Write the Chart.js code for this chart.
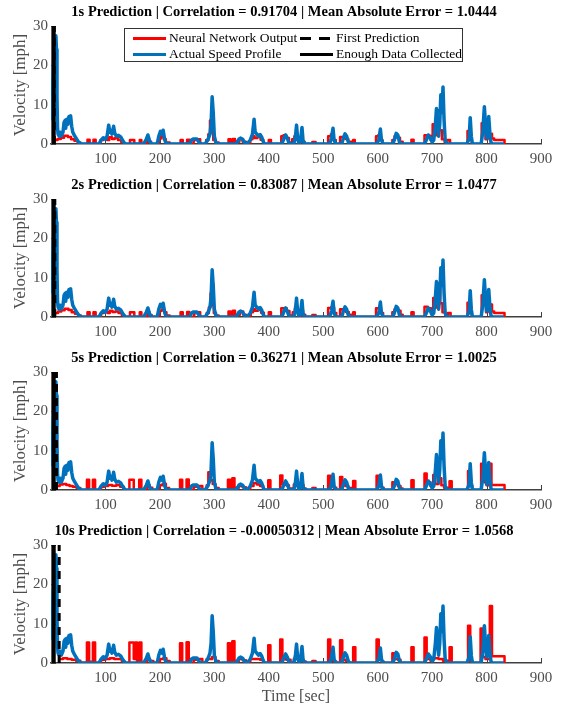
<!DOCTYPE html>
<html>
<head>
<meta charset="utf-8">
<script src="https://cdn.jsdelivr.net/npm/chart.js@4.4.1/dist/chart.umd.min.js"></script>
<style>
  html, body { margin: 0; padding: 0; background: #fff; }
  #wrap { position: relative; width: 563px; height: 707px; }
  #wrap canvas { position: absolute; left: 0; }
  #legend {
    position: absolute; left: 124px; top: 28px; width: 339px; height: 34px;
    border: 1px solid #333; background: #fff; box-sizing: border-box;
    font-family: "Liberation Serif", "Times New Roman", serif; font-size: 13.5px; color: #000;
  }
  #legend .item { position: absolute; display: flex; align-items: center; white-space: nowrap; height: 18px; }
  #legend .swatch { display: inline-block; width: 33px; height: 3px; margin-right: 3px; }
</style>
</head>
<body>
<div id="wrap">
  <canvas id="c0" width="563" height="173" style="top:0px"></canvas>
  <canvas id="c1" width="563" height="173" style="top:173px"></canvas>
  <canvas id="c2" width="563" height="173" style="top:346px"></canvas>
  <canvas id="c3" width="563" height="188" style="top:519px"></canvas>
  <div id="legend"></div>
</div>
<script>
const SERIF = '"Liberation Serif", "Times New Roman", serif';
const RED = "#ff0000";
const BLUE = "#0072bd";
const AXIS = "#404040";
const TEXT_GRAY = "#4d4d4d";

const titles = [
  "1s Prediction | Correlation = 0.91704 | Mean Absolute Error = 1.0444",
  "2s Prediction | Correlation = 0.83087 | Mean Absolute Error = 1.0477",
  "5s Prediction | Correlation = 0.36271 | Mean Absolute Error = 1.0025",
  "10s Prediction | Correlation = -0.00050312 | Mean Absolute Error = 1.0568",
];
const xTicks = [100, 200, 300, 400, 500, 600, 700, 800, 900];
const yTicks = [0, 10, 20, 30];

// x of the "enough data" line and of the first prediction per horizon
const enoughData = 5;
const firstPrediction = [6, 7, 10, 15];

// actual speed profile [sec, mph]
const actual = [
  [0,6],[2,10],[4,18],[6,24],[8,27],[9,27.5],[10,24],[11,12],[12,4],[13,2.5],[15,2],[17,3],[19,2],[22,3],[24,5.5],[26,6],[27,4],
  [29,6.3],[31,5],[33,7],[35,6],[36,7.2],[38,4.5],[40,3],[43,2.2],[46,1.5],[50,0.6],[55,0],
  [88,0],[92,1],[96,1.6],[100,1.2],[103,2],[106,4.8],[108,3],[110,3.5],[112,2.5],[115,4.5],[117,2.8],
  [120,2],[124,2.2],[128,1.8],[132,0.8],[136,0],[170,0],[175,1.2],[178,2.3],[181,0.8],[184,0],
  [195,0],[198,2],[201,3.2],[204,2.5],[206,3.5],[209,1],[212,0],[255,0],[258,1],[262,1.3],[268,1.3],
  [272,0.4],[276,0],[283,0],[288,1],[292,2.5],[294,5],[296,12],[298,8],[300,2],[303,0.3],[306,0],
  [340,0],[345,1.2],[348,1.5],[352,1.2],[356,0.3],[360,0],[366,1],[370,2.5],[373,6.3],[375,3],
  [378,2.5],[381,2],[384,2.4],[387,1.8],[390,0.5],[393,0],[424,0],[428,1.5],[431,2.3],[434,1.5],
  [437,0.3],[440,0],[446,0],[449,2],[451,4.8],[453,1.5],[455,0.3],[458,0.5],[461,4.2],[463,0.8],
  [466,0],[512,0],[515,1.5],[518,4],[520,1],[523,0],[534,0],[537,1.5],[540,2.6],[543,2],[546,0.5],
  [549,0],[598,0],[602,1],[605,3.8],[607,1],[610,0],[628,0],[631,1.2],[634,2.7],[637,2.3],[640,0.5],
  [643,0],[686,0],[690,1.2],[693,2.3],[697,1.5],[700,0.5],[703,1],[706,5],[708,9],[710,6],[712,2],
  [714,5],[716,12.5],[718,8],[720,14.5],[722,6],[724,1],[727,0],[764,0],[768,1.5],[770,6.7],[772,2],
  [774,0],[790,0],[793,3],[796,9.5],[798,5],[800,1.5],[802,2],[804,7],[806,3],[808,0.5],[810,0],[832,0],
];

// neural network output, held values [sec, mph]
const pred1s = [
  [6,1],[12,1.3],[18,1.6],[24,2.1],[31,1.8],[37,1.2],[43,0.8],[49,0.4],[54,0],
  [67,1.1],[71,0],[78,1.1],[82,0],[91,1],[96,1.4],[103,1],[107,1.7],[112,1.3],[117,1.5],[123,1],[129,0.5],[134,0],
  [145,1],[153,0],[163,1],[166,0],[176,1.5],[180,0.6],[184,0],[198,1.4],[202,2],[207,1.2],[211,0.4],[218,0],
  [238,1],[242,0],[250,1.1],[254,0],[262,1],[270,1.2],[274,0],
  [285,1],[289,2.5],[292,6],[295,3],[298,1],[302,0.4],[308,0],
  [326,1.2],[330,0],[334,1.3],[338,0.6],[346,1.3],[352,0.6],[358,0],[366,1.2],[370,2],[374,1.5],[379,1.8],[385,1.1],[390,0],
  [400,1],[404,0],[423,2],[427,2.2],[432,1.5],[437,0.4],[443,1.2],[447,2],[451,1.2],[455,0.3],[458,1.8],[462,0.6],[466,0],
  [480,0.5],[486,0],[509,2],[514,2.4],[519,1],[523,0],[531,1.8],[536,1.5],[541,1.3],[546,0.6],[555,1],[558,0],
  [597,2],[601,2.2],[605,1],[609,0],[627,1],[631,2],[636,1.6],[641,0.6],[646,0],
  [662,1.1],[666,0],[686,2.2],[692,2.1],[697,1],[701,5],[705,2.2],[708,3],[711,8.6],[714,3.5],[718,1.2],[723,0.5],[728,1],[733,0],
  [765,3.3],[769,1],[773,0],[791,5.3],[795,3],[798,1.2],[802,2.6],[806,2.6],[810,1.4],[814,1],[832,1],[833,0],
];
const pred2s = [
  [7,1],[13,1.4],[19,1.7],[25,2.1],[32,1.8],[38,1.2],[44,0.8],[50,0.4],[55,0],
  [67,1.2],[71,0],[78,1.2],[82,0],[92,1],[97,1.3],[104,1],[108,1.6],[113,1.3],[118,1.4],[124,1],[130,0.5],[135,0],
  [145,1.2],[153,0],[163,1.2],[166,0],[177,1.3],[181,0.5],[185,0],[199,1.5],[203,1.8],[208,1.2],[212,0.4],[218,0],
  [238,1.2],[242,0],[250,1.3],[254,0],[263,1],[270,1.2],[274,0],
  [286,1],[290,2.5],[293,6],[296,3],[299,1],[303,0.4],[308,0],
  [326,1.4],[330,0],[334,1.6],[338,0.6],[347,1.4],[353,0.6],[358,0],[367,1.2],[371,2],[375,1.6],[380,1.8],[386,1.1],[391,0],
  [400,1.2],[404,0],[423,2.2],[428,2.2],[433,1.5],[438,0.4],[444,1.2],[448,2.2],[452,1.2],[456,0.3],[459,1.6],[463,0.6],[467,0],
  [480,0.5],[486,0],[509,2.3],[514,2.4],[520,1],[524,0],[531,2],[536,1.6],[542,1.3],[547,0.6],[555,1.2],[558,0],
  [597,2.2],[601,2.2],[606,1],[610,0],[627,1.2],[631,2],[637,1.6],[642,0.6],[646,0],
  [662,1.2],[666,0],[686,2.6],[692,2.2],[698,1],[702,4.8],[706,2.4],[709,3],[712,8.6],[715,3.5],[719,1.2],[724,0.5],[729,1],[734,0],
  [765,3.6],[769,1],[773,0],[791,5.5],[795,3.2],[799,1.2],[802,3],[806,3.2],[810,1.4],[814,1],[832,1],[833,0],
];
const pred5s = [
  [10,1],[16,1.4],[22,1.5],[28,1.3],[34,1],[40,0.8],[47,0.5],[54,0],
  [66,2.6],[70,0],[77,2.6],[81,0],[92,0.8],[98,1],[105,1.3],[112,1.1],[120,1.3],[127,0.8],[134,0],
  [144,2.6],[152,0],[162,2.6],[166,0],[176,1.3],[181,0.6],[186,0],[199,1.2],[205,1.6],[211,0.5],[217,0],
  [237,2.6],[241,0],[249,2.7],[253,0],[262,0.8],[272,1],[278,0],
  [286,1.2],[289,4.5],[293,2.5],[297,1.5],[302,0.5],[308,0],
  [325,2.6],[329,0],[333,3],[337,0.6],[345,1],[352,0.7],[358,0],[366,1],[372,1.8],[378,1.4],[384,1],[390,0],
  [399,2.5],[403,0],[421,3.7],[425,1.5],[432,1.2],[437,0.4],[446,1.4],[452,1],[458,1.2],[464,0.4],[468,0],
  [480,0.5],[486,0],[509,3.6],[513,1],[519,0.6],[524,0],[531,3.3],[535,1.2],[541,1],[546,0.5],[555,2.3],[559,0],
  [598,3.6],[602,1.2],[607,0.6],[611,0],[627,2],[631,1.5],[637,1],[642,0.4],[646,0],
  [662,2.5],[666,0],[686,4.2],[690,2],[697,1],[702,3.8],[706,1.5],[712,3],[717,1.2],[722,0.6],[732,2.2],[736,0],
  [766,4.8],[770,1],[774,0],[790,6.7],[796,2],[800,1.2],[804,6.7],[809,1.3],[832,1.3],[833,0],
];
const pred10s = [
  [15,1],[22,1.2],[30,1],[38,0.8],[46,0.6],[54,0],
  [66,5.2],[70,0.3],[77,5.2],[81,0],[92,0.8],[100,1],[108,1.2],[116,1],[124,1],[130,0.5],[135,0],
  [144,5.2],[152,1],[155,5.2],[158,0],[162,5.2],[166,0],[176,1],[182,0.5],[188,0],[200,1],[206,1.2],[212,0.5],[218,0],
  [237,5],[241,0],[249,5.3],[253,0],[262,0.8],[272,1],[278,0],[286,1],[296,1.5],[302,0.5],[308,0],
  [325,5],[329,0],[333,5.5],[337,0.5],[345,1],[352,0.7],[358,0],[366,1],[376,1],[384,0.8],[390,0],
  [399,4.5],[403,0],[421,6],[425,1],[432,0.8],[440,0],[446,1],[456,0.8],[464,0.4],[468,0],
  [480,0.5],[486,0],[509,6],[513,0.6],[520,0.4],[524,0],[531,5.8],[535,0.8],[541,0.6],[546,0],[555,4],[559,0],
  [598,6],[602,0.8],[607,0.4],[611,0],[627,2.5],[631,1],[637,0.8],[642,0],
  [662,4],[666,0],[686,6.5],[690,1],[697,0.6],[702,1.2],[712,1],[720,0.6],[732,4],[736,0],
  [766,9.5],[770,0.5],[774,0],[789,8.8],[793,1.5],[798,1],[806,14.5],[810,1.7],[832,1.7],[833,0],
];
const predictions = [pred1s, pred2s, pred5s, pred10s];

const pts = (arr) => arr.map(([x, y]) => ({ x, y }));
const tickFont = { family: SERIF, size: 15 };

// MATLAB-style inward tick marks
const inwardTicks = {
  id: "inwardTicks",
  beforeDatasetsDraw(chart) {
    const { ctx, chartArea: a, scales: { x, y } } = chart;
    ctx.save();
    ctx.strokeStyle = AXIS;
    ctx.lineWidth = 1;
    ctx.beginPath();
    xTicks.forEach((t) => {
      const px = Math.round(x.getPixelForValue(t)) + 0.5;
      ctx.moveTo(px, a.bottom);
      ctx.lineTo(px, a.bottom - 5);
    });
    yTicks.forEach((t) => {
      const py = Math.round(y.getPixelForValue(t)) + 0.5;
      ctx.moveTo(a.left, py);
      ctx.lineTo(a.left + 5, py);
    });
    ctx.stroke();
    ctx.restore();
  },
};

// title centred a little left of the plot centre, as in the figure
const plotTitle = {
  id: "plotTitle",
  afterDraw(chart, args, opts) {
    const { ctx } = chart;
    ctx.save();
    ctx.font = `bold 14.5px ${SERIF}`;
    ctx.fillStyle = "#000";
    ctx.textAlign = "center";
    ctx.textBaseline = "middle";
    ctx.fillText(opts.text, 284, 12);
    ctx.restore();
  },
};

function makeChart(idx) {
  const last = idx === 3;
  const fp = firstPrediction[idx];
  new Chart(document.getElementById("c" + idx), {
    type: "line",
    data: {
      datasets: [
        { label: "Actual Speed Profile", data: pts(actual), borderColor: BLUE, borderWidth: 3.5, order: 2 },
        { label: "Enough Data Collected", data: pts([[enoughData, 0], [enoughData, 30]]), borderColor: "#000", borderWidth: 4, order: 0 },
        { label: "First Prediction", data: pts([[fp, 0], [fp, 30]]), borderColor: "#000", borderWidth: 3, borderDash: [8, 6], order: 1 },
        { label: "Neural Network Output", data: pts(predictions[idx]), borderColor: RED, borderWidth: 2.5, stepped: true, order: 4 },
      ],
    },
    options: {
      responsive: false,
      animation: false,
      events: [],
      elements: { point: { radius: 0 }, line: { tension: 0, borderJoinStyle: "round" } },
      layout: { padding: { top: 26, right: 22, left: 0, bottom: 0 } },
      plugins: {
        legend: { display: false },
        tooltip: { enabled: false },
        title: { display: false },
        plotTitle: { text: titles[idx] },
      },
      scales: {
        x: {
          type: "linear",
          min: 0,
          max: 900,
          afterBuildTicks: (s) => { s.ticks = [0, ...xTicks].map((v) => ({ value: v })); },
          ticks: { font: tickFont, color: TEXT_GRAY, padding: 6, maxRotation: 0, autoSkip: false,
                   callback: (v) => (v === 0 ? "" : v) },
          grid: { display: false, drawTicks: false },
          border: { display: true, color: AXIS, width: 1.5 },
          title: { display: last, text: "Time [sec]", color: TEXT_GRAY,
                   font: { family: SERIF, size: 16 }, padding: { top: 0, bottom: 1 } },
          afterFit: (s) => { s.height = last ? 44 : 29; },
        },
        y: {
          min: 0,
          max: 30,
          afterBuildTicks: (s) => { s.ticks = yTicks.map((v) => ({ value: v })); },
          ticks: { font: tickFont, color: TEXT_GRAY, padding: 3 },
          grid: { display: false, drawTicks: false },
          border: { display: true, color: "#808080", width: 1 },
          title: { display: true, text: "Velocity [mph]", color: TEXT_GRAY,
                   font: { family: SERIF, size: 17 }, padding: { top: 10, bottom: 0 } },
          afterFit: (s) => { s.width = 51; },
        },
      },
    },
    plugins: [inwardTicks, plotTitle],
  });
}

[0, 1, 2, 3].forEach(makeChart);

// legend box (2 x 2, as in the first subplot)
const legendItems = [
  { text: "Neural Network Output", style: `background:${RED}`, left: 8, top: 9 },
  { text: "First Prediction", style: "background:repeating-linear-gradient(to right,#000 0 11px,transparent 11px 19px)", left: 175, top: 9 },
  { text: "Actual Speed Profile", style: `background:${BLUE}`, left: 8, top: 25 },
  { text: "Enough Data Collected", style: "background:#000", left: 175, top: 25 },
];
const legend = document.getElementById("legend");
legendItems.forEach((it) => {
  const d = document.createElement("div");
  d.className = "item";
  d.style.left = it.left + "px";
  d.style.top = (it.top - 9) + "px";
  const sw = document.createElement("span");
  sw.className = "swatch";
  sw.setAttribute("style", it.style);
  const tx = document.createElement("span");
  tx.textContent = it.text;
  d.appendChild(sw);
  d.appendChild(tx);
  legend.appendChild(d);
});
</script>
</body>
</html>
